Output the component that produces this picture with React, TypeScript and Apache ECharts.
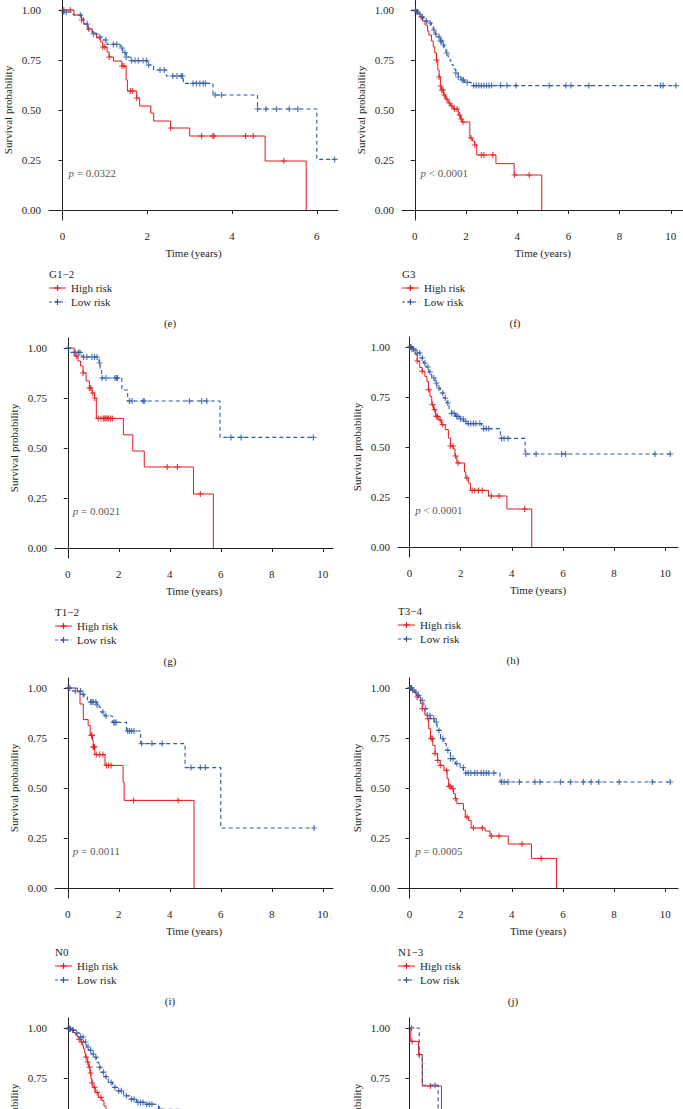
import React, { useEffect, useRef } from "react";
import * as echarts from "echarts";

// ---------- data (years / survival probability) ----------
// (e) G1-2
const eHighT = [0, 0.27, 0.45, 0.5, 0.6, 0.7, 0.8, 0.9, 0.95, 1.05, 1.1, 1.2, 1.4, 1.5, 1.53, 1.75, 1.82, 2.08, 2.15, 2.55, 3.0, 4.78, 5.75];
const eHighS = [1, 0.975, 0.95, 0.93, 0.905, 0.885, 0.86, 0.84, 0.815, 0.79, 0.765, 0.745, 0.72, 0.65, 0.595, 0.56, 0.52, 0.485, 0.445, 0.41, 0.37, 0.245, 0];
const eHighC = [0.03, 0.18, 0.45, 0.62, 0.95, 1.0, 1.1, 1.4, 1.45, 1.6, 1.65, 1.75, 2.55, 3.28, 3.55, 3.57, 4.32, 4.5, 5.22];
const eLowT = [0, 0.02, 0.25, 0.45, 0.5, 0.6, 0.7, 0.85, 0.95, 1.05, 1.36, 1.42, 1.5, 1.6, 2.0, 2.15, 2.45, 2.85, 3.55, 4.6, 6.0];
const eLowS = [1, 0.99, 0.975, 0.96, 0.93, 0.9, 0.88, 0.865, 0.85, 0.828, 0.81, 0.787, 0.765, 0.747, 0.725, 0.7, 0.67, 0.633, 0.575, 0.505, 0.253];
const eLowC = [0.03, 0.09, 0.42, 0.58, 0.73, 0.88, 1.02, 1.2, 1.28, 1.4, 1.47, 1.5, 1.63, 1.71, 1.79, 1.9, 1.98, 2.03, 2.3, 2.4, 2.6, 2.7, 2.8, 2.83, 3.08, 3.16, 3.24, 3.32, 3.37, 3.6, 3.75, 4.6, 4.8, 5.05, 5.35, 5.55, 6.42];

// (f) G3
const fHighT = [0, 0.1, 0.2, 0.3, 0.4, 0.5, 0.55, 0.65, 0.72, 0.78, 0.85, 0.9, 0.95, 1.0, 1.05, 1.12, 1.2, 1.3, 1.4, 1.5, 1.7, 1.78, 1.85, 2.15, 2.25, 2.33, 2.42, 3.17, 3.88, 4.96];
const fHighS = [1, 0.985, 0.965, 0.945, 0.925, 0.895, 0.875, 0.845, 0.815, 0.785, 0.75, 0.7, 0.665, 0.62, 0.6, 0.575, 0.555, 0.535, 0.52, 0.505, 0.475, 0.455, 0.44, 0.36, 0.345, 0.325, 0.275, 0.232, 0.175, 0];
const fHighC = [0.25, 0.85, 0.95, 1.0, 1.05, 1.1, 1.15, 1.25, 1.35, 1.45, 1.55, 1.65, 1.75, 1.82, 1.88, 2.2, 2.35, 2.6, 2.7, 3.05, 3.9, 4.47];
const fLowT = [0, 0.05, 0.15, 0.25, 0.35, 0.5, 0.65, 0.72, 0.8, 0.9, 1.0, 1.08, 1.15, 1.22, 1.3, 1.38, 1.45, 1.52, 1.6, 1.7, 1.8, 1.95, 2.2];
const fLowS = [1, 0.99, 0.98, 0.965, 0.945, 0.935, 0.92, 0.9, 0.88, 0.865, 0.845, 0.825, 0.805, 0.785, 0.765, 0.745, 0.725, 0.705, 0.685, 0.665, 0.65, 0.638, 0.622];
const fLowC = [0.03, 0.08, 0.12, 0.3, 0.45, 0.6, 0.75, 0.82, 0.95, 1.0, 1.05, 1.12, 1.25, 1.6, 1.7, 1.85, 1.9, 2.05, 2.3, 2.4, 2.5, 2.6, 2.7, 2.8, 2.9, 3.0, 3.35, 3.6, 3.95, 5.25, 5.9, 6.1, 6.8, 9.6, 9.7, 10.2];

// (g) T1-2
const gHighT = [0, 0.25, 0.4, 0.5, 0.6, 0.72, 0.85, 0.95, 1.05, 1.12, 2.18, 2.55, 3.0, 4.93, 5.71];
const gHighS = [1, 0.96, 0.935, 0.91, 0.875, 0.835, 0.8, 0.775, 0.75, 0.648, 0.566, 0.485, 0.405, 0.27, 0];
const gHighC = [0.35, 0.6, 0.85, 0.9, 0.98, 1.05, 1.2, 1.3, 1.4, 1.45, 1.5, 1.55, 1.6, 1.68, 1.75, 3.9, 4.3, 5.2];
const gLowT = [0, 0.1, 0.55, 1.23, 1.27, 1.33, 2.12, 2.35, 5.97];
const gLowS = [1, 0.978, 0.955, 0.925, 0.887, 0.85, 0.79, 0.735, 0.553];
const gLowC = [0.02, 0.3, 0.42, 0.48, 0.62, 0.75, 0.95, 1.05, 1.15, 1.25, 1.35, 1.5, 1.85, 1.92, 1.95, 2.42, 2.52, 2.95, 3.0, 4.77, 5.25, 5.45, 6.4, 6.8, 9.63];

// (h) T3-4
const hHighT = [0, 0.15, 0.22, 0.3, 0.4, 0.5, 0.6, 0.68, 0.74, 0.8, 0.87, 0.94, 1.02, 1.15, 1.25, 1.4, 1.52, 1.6, 1.72, 1.78, 1.85, 2.15, 2.2, 2.3, 2.38, 3.09, 3.81, 4.78];
const hHighS = [1, 0.985, 0.962, 0.93, 0.897, 0.878, 0.853, 0.828, 0.787, 0.753, 0.712, 0.687, 0.653, 0.635, 0.612, 0.587, 0.545, 0.505, 0.49, 0.455, 0.42, 0.375, 0.345, 0.32, 0.283, 0.255, 0.19, 0];
const hHighC = [0.05, 0.3, 0.5, 0.75, 0.9, 0.98, 1.05, 1.1, 1.2, 1.3, 1.6, 1.7, 1.8, 1.9, 2.25, 2.45, 2.55, 2.7, 2.85, 3.2, 3.5, 4.5];
const hLowT = [0, 0.1, 0.26, 0.42, 0.55, 0.65, 0.75, 0.87, 1.0, 1.07, 1.2, 1.33, 1.46, 1.55, 1.65, 1.8, 1.98, 2.11, 2.24, 2.83, 3.55, 4.52];
const hLowS = [1, 0.99, 0.97, 0.945, 0.92, 0.9, 0.875, 0.845, 0.82, 0.795, 0.77, 0.745, 0.72, 0.69, 0.668, 0.653, 0.64, 0.628, 0.617, 0.592, 0.543, 0.465];
const hLowC = [0.02, 0.06, 0.1, 0.15, 0.3, 0.4, 0.5, 0.6, 0.72, 0.8, 0.95, 1.05, 1.15, 1.3, 1.4, 1.5, 1.65, 1.75, 1.85, 1.9, 2.0, 2.1, 2.2, 2.3, 2.4, 2.5, 2.6, 2.75, 2.9, 3.0, 3.1, 3.6, 3.7, 3.85, 4.55, 4.95, 5.95, 6.1, 9.6, 10.2];

// (i) N0
const iHighT = [0, 0.38, 0.48, 0.61, 0.8, 0.88, 0.97, 1.0, 1.06, 1.46, 2.17, 2.21, 4.95];
const iHighS = [1, 0.98, 0.92, 0.842, 0.813, 0.763, 0.738, 0.705, 0.667, 0.613, 0.53, 0.438, 0];
const iHighC = [0.03, 0.93, 0.95, 1.0, 1.02, 1.05, 1.12, 1.25, 1.38, 1.52, 1.6, 1.7, 2.58, 4.33];
const iLowT = [0, 0.12, 0.55, 0.64, 0.77, 1.15, 1.23, 1.29, 1.45, 1.75, 2.31, 2.86, 4.6, 6.0];
const iLowS = [1, 0.985, 0.968, 0.955, 0.93, 0.915, 0.905, 0.88, 0.86, 0.828, 0.785, 0.722, 0.602, 0.3];
const iLowC = [0.02, 0.08, 0.3, 0.5, 0.6, 0.9, 0.95, 1.0, 1.1, 1.15, 1.38, 1.5, 1.8, 1.85, 1.9, 2.35, 2.42, 2.5, 2.6, 2.9, 3.3, 3.7, 4.83, 5.2, 5.4, 9.66];

// (j) N1-3
const jHighT = [0, 0.1, 0.2, 0.3, 0.43, 0.5, 0.6, 0.7, 0.75, 0.82, 0.91, 1.0, 1.1, 1.2, 1.35, 1.47, 1.53, 1.65, 1.72, 1.79, 1.85, 2.11, 2.18, 2.31, 2.41, 2.96, 3.15, 3.86, 4.77, 5.75];
const jHighS = [1, 0.99, 0.975, 0.955, 0.922, 0.897, 0.865, 0.847, 0.797, 0.747, 0.713, 0.672, 0.638, 0.613, 0.588, 0.547, 0.508, 0.497, 0.472, 0.447, 0.422, 0.39, 0.355, 0.338, 0.3, 0.285, 0.26, 0.22, 0.148, 0];
const jHighC = [0.05, 0.3, 0.5, 0.72, 0.85, 0.9, 1.0, 1.1, 1.2, 1.45, 1.55, 1.6, 1.7, 1.8, 2.25, 2.5, 2.85, 3.2, 3.5, 4.4, 5.15];
const jLowT = [0, 0.1, 0.17, 0.3, 0.43, 0.56, 0.69, 0.82, 0.97, 1.08, 1.21, 1.34, 1.44, 1.6, 1.79, 1.98, 2.11, 3.54];
const jLowS = [1, 0.99, 0.98, 0.963, 0.938, 0.897, 0.863, 0.847, 0.83, 0.788, 0.747, 0.722, 0.688, 0.647, 0.622, 0.602, 0.575, 0.53];
const jLowC = [0.02, 0.05, 0.08, 0.12, 0.25, 0.35, 0.5, 0.62, 0.8, 0.95, 1.05, 1.15, 1.3, 1.5, 1.6, 1.7, 1.85, 2.1, 2.2, 2.3, 2.4, 2.55, 2.65, 2.8, 2.9, 3.0, 3.1, 3.3, 3.6, 3.7, 3.85, 4.3, 4.9, 5.1, 5.9, 6.3, 6.8, 7.1, 7.4, 8.2, 9.5, 10.2];

// (k) bottom-left, partly visible
const kHighT = [0, 0.1, 0.22, 0.3, 0.39, 0.45, 0.51, 0.57, 0.62, 0.66, 0.7, 0.76, 0.82, 0.87, 0.91, 0.95, 0.99, 1.08, 1.2, 1.34, 1.42, 1.5, 1.7, 2.0, 2.4, 3.0, 4.0, 5.0];
const kHighS = [1, 0.99, 0.978, 0.966, 0.955, 0.943, 0.93, 0.913, 0.896, 0.875, 0.854, 0.83, 0.804, 0.775, 0.745, 0.725, 0.703, 0.678, 0.653, 0.636, 0.61, 0.59, 0.52, 0.45, 0.38, 0.3, 0.22, 0];
const kHighC = [0.05, 0.2, 0.45, 0.55, 0.72, 0.78, 0.85, 0.9, 0.95, 1.05, 1.15, 1.3];
const kLowT = [0, 0.05, 0.14, 0.31, 0.48, 0.62, 0.74, 0.82, 0.94, 1.03, 1.13, 1.22, 1.3, 1.42, 1.59, 1.76, 1.93, 2.19, 2.45, 2.7, 3.05, 3.56, 4.5];
const kLowS = [1, 0.995, 0.99, 0.975, 0.955, 0.93, 0.905, 0.888, 0.87, 0.854, 0.829, 0.804, 0.779, 0.757, 0.728, 0.703, 0.686, 0.661, 0.644, 0.628, 0.619, 0.594, 0.55];
const kLowC = [0.02, 0.06, 0.1, 0.2, 0.35, 0.5, 0.6, 0.7, 0.8, 0.9, 1.0, 1.1, 1.25, 1.4, 1.5, 1.7, 1.85, 2.0, 2.1, 2.3, 2.5, 2.6, 2.75, 2.85, 2.95, 3.1, 3.2, 3.3, 3.6];

// (l) bottom-right, partly visible
const lHighT = [0, 0.05, 0.35, 0.5, 1.25];
const lHighS = [1, 0.933, 0.867, 0.71, 0.45];
const lHighC = [0.1, 0.38, 0.82];
const lLowT = [0, 0.38, 0.5, 1.12];
const lLowS = [1, 0.857, 0.714, 0.5];
const lLowC = [0.08, 1.0];

const groups = ["G1\u22122", "G3", "T1\u22122", "T3\u22124", "N0", "N1\u22123", "", ""];
const pValues = ["= 0.0322", "< 0.0001", "= 0.0021", "< 0.0001", "= 0.0011", "= 0.0005", "", ""];
const letters = ["(e)", "(f)", "(g)", "(h)", "(i)", "(j)", "", ""];
const ticks6 = [0, 2, 4, 6];
const ticks10 = [0, 2, 4, 6, 8, 10];
const yTicks = [0, 0.25, 0.5, 0.75, 1];
const yTicksVisibleBottom = [0.75, 1];
const legendLabels = ["High risk", "Low risk"];

const curves = [
  [eHighT, eHighS, eHighC, eLowT, eLowS, eLowC],
  [fHighT, fHighS, fHighC, fLowT, fLowS, fLowC],
  [gHighT, gHighS, gHighC, gLowT, gLowS, gLowC],
  [hHighT, hHighS, hHighC, hLowT, hLowS, hLowC],
  [iHighT, iHighS, iHighC, iLowT, iLowS, iLowC],
  [jHighT, jHighS, jHighC, jLowT, jLowS, jLowC],
  [kHighT, kHighS, kHighC, kLowT, kLowS, kLowC],
  [lHighT, lHighS, lHighC, lLowT, lLowS, lLowC],
];

// ---------- layout / style ----------
const RED = "#E41A1C";
const BLUE = "#2C5AA6";
const INK = "#231F20";
const FAM = "'Liberation Serif', 'DejaVu Serif', serif";
const FS = 11;
const PLUS = "path://M4,0h2v4h4v2h-4v4h-2v-4h-4v-2h4z";

const layout = [
  { left: 49, width: 289, y1: 10, xMin: -0.32, xMax: 6.5, ticks: ticks6, letterX: 170, pX: 0.14, cut: false },
  { left: 402, width: 281.6, y1: 10, xMin: -0.5, xMax: 10.5, ticks: ticks10, letterX: 515, pX: 0.22, cut: false },
  { left: 55, width: 278, y1: 348, xMin: -0.5, xMax: 10.4, ticks: ticks10, letterX: 170, pX: 0.2, cut: false },
  { left: 398, width: 280, y1: 347, xMin: -0.45, xMax: 10.5, ticks: ticks10, letterX: 513, pX: 0.22, cut: false },
  { left: 55, width: 278, y1: 688, xMin: -0.5, xMax: 10.4, ticks: ticks10, letterX: 170, pX: 0.2, cut: false },
  { left: 398, width: 280, y1: 688, xMin: -0.45, xMax: 10.5, ticks: ticks10, letterX: 513, pX: 0.22, cut: false },
  { left: 55, width: 278, y1: 1028, xMin: -0.5, xMax: 10.4, ticks: ticks10, letterX: 170, pX: 0.2, cut: true },
  { left: 398, width: 280, y1: 1028, xMin: -0.45, xMax: 10.5, ticks: ticks10, letterX: 513, pX: 0.22, cut: true },
];

function kmLine(t: number[], s: number[], c: number[]) {
  const pts = t.map((x, i) => [x, s[i]]);
  const lastC = c.length ? Math.max(...c) : 0;
  const lastS = s[s.length - 1];
  if (lastC > t[t.length - 1] && lastS > 0) pts.push([lastC, lastS]);
  return pts;
}
function survAt(t: number[], s: number[], x: number) {
  let v = s[0];
  for (let i = 0; i < t.length; i++) if (t[i] <= x) v = s[i];
  return v;
}

function buildOption() {
  const grid: any[] = [];
  const xAxis: any[] = [];
  const yAxis: any[] = [];
  const series: any[] = [];
  const elements: any[] = [];
  const axisLine = { show: true, lineStyle: { color: INK, width: 1 } };
  const tickStyle = { show: true, length: 4, lineStyle: { color: INK, width: 1 } };
  const labelText = { color: INK, fontFamily: FAM, fontSize: FS };

  layout.forEach((L, k) => {
    grid.push({
      left: L.left, top: L.y1 - 10, width: L.width, height: 220,
      containLabel: false, outerBoundsMode: "none",
    });
    xAxis.push({
      type: "value", gridIndex: k, min: L.xMin, max: L.xMax,
      axisLine, splitLine: { show: false },
      axisTick: { ...tickStyle, customValues: L.ticks },
      axisLabel: { ...labelText, show: !L.cut, margin: 10, customValues: L.ticks, formatter: (v: number) => String(v) },
      name: L.cut ? "" : "Time (years)", nameLocation: "middle", nameGap: 27,
      nameTextStyle: { ...labelText },
    });
    yAxis.push({
      type: "value", gridIndex: k, min: -0.05, max: 1.05,
      axisLine, splitLine: { show: false },
      axisTick: { ...tickStyle, customValues: yTicks },
      axisLabel: {
        ...labelText, margin: 8,
        customValues: L.cut ? yTicksVisibleBottom : yTicks,
        formatter: (v: number) => v.toFixed(2),
      },
      name: "Survival probability", nameLocation: "middle", nameGap: 36, nameRotate: 90,
      nameTextStyle: { ...labelText },
    });
    const [hT, hS, hC, lT, lS, lC] = curves[k];
    series.push({
      type: "line", xAxisIndex: k, yAxisIndex: k, step: "end", symbol: "none", silent: true,
      data: kmLine(hT, hS, hC), lineStyle: { color: RED, width: 1 }, z: 2,
    });
    series.push({
      type: "scatter", xAxisIndex: k, yAxisIndex: k, symbol: PLUS, symbolSize: 6, silent: true,
      data: hC.map((c) => [c, survAt(hT, hS, c)]), itemStyle: { color: RED }, z: 3,
    });
    series.push({
      type: "line", xAxisIndex: k, yAxisIndex: k, step: "end", symbol: "none", silent: true,
      data: kmLine(lT, lS, lC), lineStyle: { color: BLUE, width: 1.1, type: [4, 3] }, z: 4,
    });
    series.push({
      type: "scatter", xAxisIndex: k, yAxisIndex: k, symbol: PLUS, symbolSize: 6, silent: true,
      data: lC.map((c) => [c, survAt(lT, lS, c)]), itemStyle: { color: BLUE }, z: 5,
    });
    if (pValues[k]) {
      series.push({
        type: "scatter", xAxisIndex: k, yAxisIndex: k, symbolSize: 0, silent: true,
        data: [[L.pX, 0.185]],
        label: {
          show: true, position: "right", distance: 0,
          formatter: "{i|p} " + pValues[k],
          color: INK, fontFamily: FAM, fontSize: FS,
          rich: { i: { fontStyle: "italic", fontFamily: FAM, fontSize: FS, color: INK } },
        },
      });
    }
    // legend + caption letter
    const y0 = L.y1 + 200;
    if (groups[k]) {
      const lx = L.left;
      const txt = (text: string, x: number, y: number, align = "left") => ({
        type: "text", silent: true,
        style: {
          text, x, y, fill: INK, font: `${FS}px ${FAM}`,
          textAlign: align, textVerticalAlign: "middle", align, verticalAlign: "middle",
        },
      });
      elements.push(txt(groups[k], lx, y0 + 64));
      [RED, BLUE].forEach((col, m) => {
        const yy = y0 + 78 + m * 14;
        elements.push({
          type: "line", silent: true,
          shape: { x1: lx, y1: yy, x2: lx + 17, y2: yy },
          style: { stroke: col, lineWidth: 1, lineDash: m === 1 ? [3, 2.5] : null },
        });
        elements.push({
          type: "line", silent: true,
          shape: { x1: lx + 8.5, y1: yy - 3, x2: lx + 8.5, y2: yy + 3 },
          style: { stroke: col, lineWidth: 1.2 },
        });
        elements.push({
          type: "line", silent: true,
          shape: { x1: lx + 5.5, y1: yy, x2: lx + 11.5, y2: yy },
          style: { stroke: col, lineWidth: 1.2 },
        });
        elements.push(txt(legendLabels[m], lx + 22, yy));
      });
      elements.push(txt(letters[k], L.letterX, y0 + 113, "center"));
    }
  });

  return {
    animation: false,
    backgroundColor: "#ffffff",
    grid, xAxis, yAxis, series,
    graphic: { elements },
  };
}

export default function App() {
  const ref = useRef<HTMLDivElement>(null);
  useEffect(() => {
    if (!ref.current) return;
    const chart = echarts.init(ref.current, undefined, { renderer: "svg" });
    chart.setOption(buildOption() as any);
    return () => chart.dispose();
  }, []);
  return (
    <div
      ref={ref}
      style={{ position: "absolute", left: 0, top: 0, width: 683, height: 1109, background: "#fff" }}
    />
  );
}
